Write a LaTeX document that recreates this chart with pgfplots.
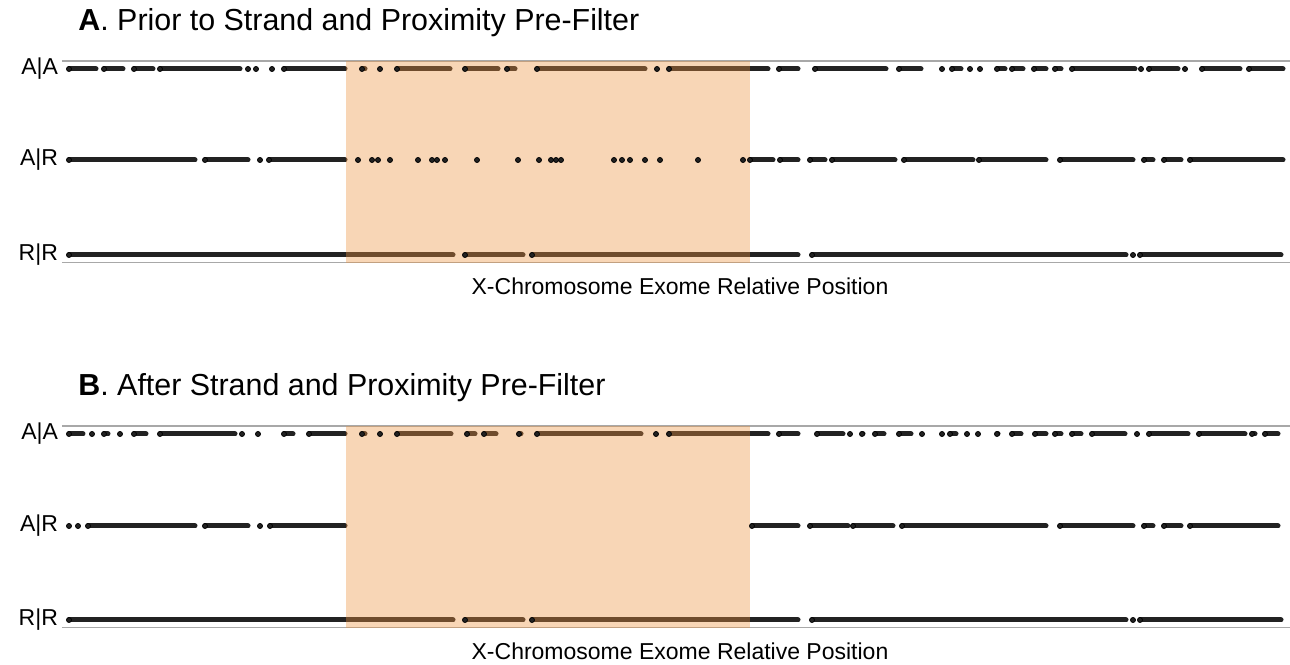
\documentclass[border=0pt]{standalone}
\usepackage{pgfplots}
\pgfplotsset{compat=1.18}
\usepackage{fontspec}
\setmainfont{Liberation Sans}
\definecolor{dotc}{HTML}{222222}
\definecolor{shade}{RGB}{237,147,63}
\definecolor{rulec}{HTML}{A8A8A8}
\pgfplotsset{
  panel/.style={scale only axis, width=614pt, height=101pt, xmin=62, xmax=1290,
    axis line style={draw=none}, xtick=\empty, major tick length=0pt,
    yticklabels={R|R,A|R,A|A},
    yticklabel style={font=\fontsize{11.5}{13}\selectfont, text=black, xshift=1.5pt},
    anchor=south west},
  run/.style={only marks, mark=*, mark size=1.25pt, mark options={draw=none, fill=dotc},
    error bars/.cd, x dir=plus, x explicit, error mark=none,
    error bar style={draw=dotc, line width=2.5pt, line cap=round}},
  shd/.style={draw=none, fill=shade, fill opacity=0.38},
}
\begin{document}
\begin{tikzpicture}
\path[use as bounding box] (0,0) rectangle (645pt,332pt);
\node[anchor=base west, inner sep=0pt, font=\fontsize{15.2}{17}\selectfont] at (39pt,316.5pt) {\textbf{A}. Prior to Strand and Proximity Pre-Filter};
\node[anchor=base, inner sep=0pt, font=\fontsize{11.5}{13}\selectfont] at (340pt,184.5pt) {X-Chromosome Exome Relative Position};
\node[anchor=base west, inner sep=0pt, font=\fontsize{15.2}{17}\selectfont] at (39pt,134pt) {\textbf{B}. After Strand and Proximity Pre-Filter};
\node[anchor=base, inner sep=0pt, font=\fontsize{11.5}{13}\selectfont] at (340pt,2.5pt) {X-Chromosome Exome Relative Position};

% Panel A  (x = start of a run of calls, e = length of the run)
\begin{axis}[panel, at={(31pt,200.5pt)}, ymin=-263, ymax=-61, ytick={-255,-160,-69}]
\draw[rulec, line width=0.75pt] (rel axis cs:0,0) -- (rel axis cs:1,0);
\draw[rulec, line width=0.75pt] (rel axis cs:0,1) -- (rel axis cs:1,1);
% A|A
\addplot[run] table[x=x, y=y, x error plus=e] {
x y e
69 -69 27
104 -69 19
134 -69 19
160 -69 80
248 -69 0
256 -69 0
272 -69 0
284 -69 61
362 -69 3
380 -69 0
397 -69 53
465 -69 33
507 -69 8
537 -69 108
657 -69 0
669 -69 99
779 -69 19
815 -69 71
899 -69 22
942 -69 0
952 -69 9
970 -69 0
980 -69 0
997 -69 8
1012 -69 11
1034 -69 12
1055 -69 6
1072 -69 63
1141 -69 0
1149 -69 29
1185 -69 0
1202 -69 38
1249 -69 34
};
% A|R
\addplot[run] table[x=x, y=y, x error plus=e] {
x y e
69 -160 126
205 -160 43
260 -160 0
269 -160 76
358 -160 0
372 -160 0
378 -160 0
390 -160 0
418 -160 0
432 -160 0
437 -160 0
445 -160 0
477 -160 0
518 -160 0
539 -160 0
551 -160 0
556 -160 0
561 -160 0
614 -160 0
622 -160 0
630 -160 0
645 -160 0
660 -160 0
698 -160 0
743 -160 0
750 -160 23
780 -160 18
810 -160 15
832 -160 63
904 -160 69
979 -160 67
1060 -160 73
1144 -160 9
1164 -160 17
1190 -160 93
};
% R|R
\addplot[run] table[x=x, y=y, x error plus=e] {
x y e
69 -255 384
465 -255 58
532 -255 266
812 -255 314
1133 -255 0
1140 -255 141
};
\addplot[shd] coordinates {(346,-263)(750,-263)(750,-61)(346,-61)} -- cycle;
\end{axis}

% Panel B
\begin{axis}[panel, at={(31pt,18pt)}, ymin=-628, ymax=-426, ytick={-620,-526,-434}]
\draw[rulec, line width=0.75pt] (rel axis cs:0,0) -- (rel axis cs:1,0);
\draw[rulec, line width=0.75pt] (rel axis cs:0,1) -- (rel axis cs:1,1);
% A|A
\addplot[run] table[x=x, y=y, x error plus=e] {
x y e
69 -434 14
92 -434 0
104 -434 4
120 -434 0
134 -434 12
160 -434 75
242 -434 0
258 -434 0
284 -434 9
309 -434 36
362 -434 3
380 -434 0
397 -434 54
467 -434 8
484 -434 12
519 -434 2
537 -434 104
656 -434 0
669 -434 99
779 -434 19
817 -434 26
850 -434 0
862 -434 1
875 -434 9
899 -434 12
922 -434 0
942 -434 0
950 -434 6
967 -434 0
978 -434 0
997 -434 1
1012 -434 9
1035 -434 11
1055 -434 6
1072 -434 9
1092 -434 33
1137 -434 0
1149 -434 39
1199 -434 46
1252 -434 3
1265 -434 13
};
% A|R
\addplot[run] table[x=x, y=y, x error plus=e] {
x y e
69 -526 0
78 -526 0
88 -526 107
205 -526 43
260 -526 0
270 -526 75
752 -526 46
810 -526 38
853 -526 40
902 -526 144
1060 -526 73
1144 -526 9
1164 -526 17
1190 -526 88
};
% R|R
\addplot[run] table[x=x, y=y, x error plus=e] {
x y e
69 -620 384
465 -620 58
532 -620 266
812 -620 314
1133 -620 0
1140 -620 141
};
\addplot[shd] coordinates {(346,-628)(750,-628)(750,-426)(346,-426)} -- cycle;
\end{axis}
\end{tikzpicture}
\end{document}
